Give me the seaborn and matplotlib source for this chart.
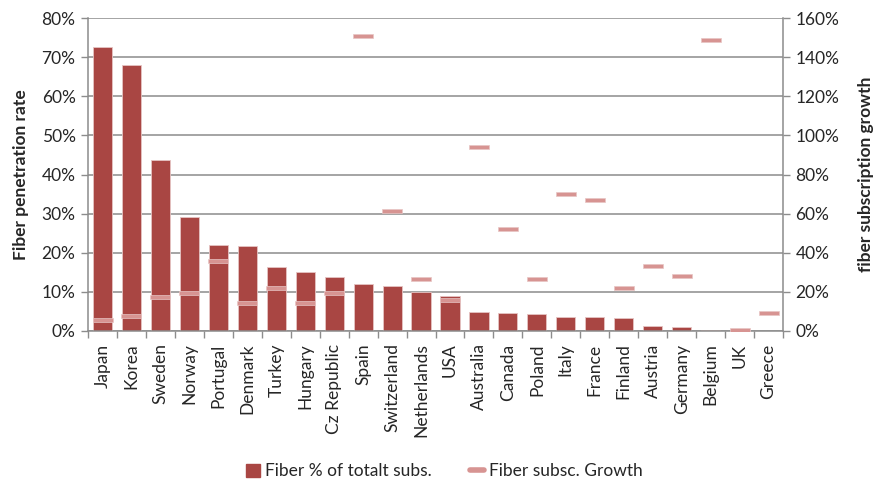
import numpy as np
import pandas as pd
import matplotlib
matplotlib.use("Agg")
import matplotlib.pyplot as plt
from matplotlib.ticker import PercentFormatter, FixedLocator
from matplotlib.patches import Patch
from matplotlib.lines import Line2D
import seaborn as sns

countries = ["Japan", "Korea", "Sweden", "Norway", "Portugal", "Denmark", "Turkey",
             "Hungary", "Cz Republic", "Spain", "Switzerland", "Netherlands", "USA",
             "Australia", "Canada", "Poland", "Italy", "France", "Finland", "Austria",
             "Germany", "Belgium", "UK", "Greece"]
penetration = [72.6, 67.9, 43.6, 29.2, 21.9, 21.6, 16.3, 15.1, 13.7, 12.1, 11.6, 9.9,
               8.9, 4.9, 4.5, 4.3, 3.7, 3.5, 3.3, 1.4, 1.1, 0.2, 0.1, 0.0]
growth = [5.5, 7.8, 17.5, 19.6, 35.7, 14.3, 22.1, 14.3, 19.4, 151.0, 61.5, 26.4,
          15.9, 94.3, 52.3, 26.8, 70.2, 67.0, 22.1, 33.1, 28.3, 148.8, 0.3, 9.4]

BAR = "#A94643"
MARK = "#D79492"
GRID = "#8C8C8C"
FS = 12.5

sns.set_theme(style="white")
plt.rcParams["font.family"] = ["Lato", "DejaVu Sans"]

df = pd.DataFrame({"country": countries, "pen": penetration, "growth": growth,
                   "pos": np.arange(len(countries))})

fig = plt.figure(figsize=(8.75, 4.83), dpi=100)
ax = fig.add_axes([0.1006, 0.3147, 0.7943, 0.648])

sns.barplot(data=df, x="country", y="pen", color=BAR, saturation=1, width=0.66,
            edgecolor="#E6C4C3", linewidth=0.6, ax=ax, zorder=2)
ax.set_ylim(0, 80)
ax.set_xlim(-0.5, len(countries) - 0.5)
ax.yaxis.set_major_locator(FixedLocator(np.arange(0, 81, 10)))
ax.yaxis.set_major_formatter(PercentFormatter(decimals=0))
ax.grid(axis="y", color=GRID, linewidth=1.1, zorder=0)
ax.set_axisbelow(True)
ax.set_xlabel("")
ax.set_ylabel("Fiber penetration rate", fontsize=FS, fontweight="bold", labelpad=9)

ax.set_xticks(np.arange(len(countries)))
ax.set_xticklabels(countries, rotation=90, fontsize=FS)
ax.set_xticks(np.arange(len(countries) + 1) - 0.5, minor=True)
ax.tick_params(axis="x", which="major", length=0, pad=9)
ax.tick_params(axis="x", which="minor", length=5, color=GRID, width=1, direction="out", bottom=True)
ax.tick_params(axis="y", length=5, color=GRID, width=1, direction="out", left=True, labelsize=FS, pad=4)

for side in ["top", "right"]:
    ax.spines[side].set_visible(False)
for side in ["left", "bottom"]:
    ax.spines[side].set_color(GRID)
    ax.spines[side].set_linewidth(1.1)

ax2 = ax.twinx()
bar_marker = [(-1, -0.26), (1, -0.26), (1, 0.26), (-1, 0.26), (-1, -0.26)]
sns.scatterplot(data=df, x="pos", y="growth", marker=bar_marker, s=190, color=MARK,
                edgecolor="#E8C6C5", linewidth=0.5, ax=ax2, zorder=3, legend=False)
ax2.set_ylim(0, 160)
ax2.yaxis.set_major_locator(FixedLocator(np.arange(0, 161, 20)))
ax2.yaxis.set_major_formatter(PercentFormatter(decimals=0))
ax2.set_ylabel("fiber subscription growth", fontsize=FS, fontweight="bold", labelpad=13)
ax2.set_xlabel("")
ax2.tick_params(axis="y", length=5, color=GRID, width=1, direction="out", right=True, labelsize=FS, pad=4)
ax2.grid(False)
for side in ["top", "left", "bottom"]:
    ax2.spines[side].set_visible(False)
ax2.spines["right"].set_color(GRID)
ax2.spines["right"].set_linewidth(1.1)
ax2.set_xlim(-0.5, len(countries) - 0.5)

handles = [Patch(facecolor=BAR, edgecolor=BAR),
           Line2D([0], [0], color=MARK, linewidth=4)]
fig.legend(handles, ["Fiber % of totalt subs.", "Fiber subsc. Growth"],
           loc="center", bbox_to_anchor=(0.508, 0.024), ncol=2, frameon=False,
           fontsize=FS, handlelength=0.8, handleheight=0.8, columnspacing=2.2,
           handletextpad=0.3)

fig.savefig("out.png", dpi=100)
